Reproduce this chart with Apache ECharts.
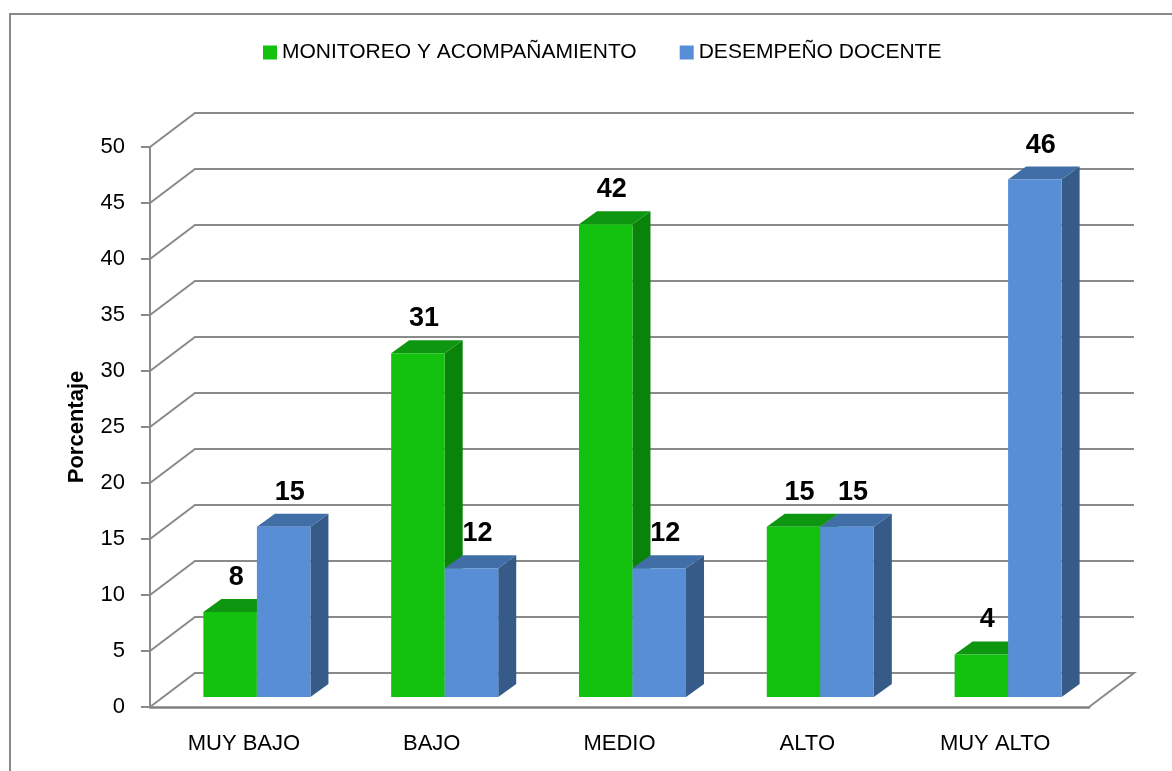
<!DOCTYPE html>
<html>
<head>
<meta charset="utf-8">
<script src="https://cdn.jsdelivr.net/npm/echarts@6/dist/echarts.min.js"></script>
<style>
html,body{margin:0;padding:0;background:#fff;}
#chart{width:1172px;height:771px;}
</style>
</head>
<body>
<div id="chart"></div>
<script>
// ---- data ----
var categories = ['MUY BAJO', 'BAJO', 'MEDIO', 'ALTO', 'MUY ALTO'];
var seriesNames = ['MONITOREO Y ACOMPAÑAMIENTO', 'DESEMPEÑO DOCENTE'];
var monitoreo = [7.6, 30.7, 42.2, 15.2, 3.8];
var desempeno = [15.2, 11.5, 11.5, 15.2, 46.2];
var yTicks = [0, 5, 10, 15, 20, 25, 30, 35, 40, 45, 50];

// ---- style ----
var FONT = '"Liberation Sans", Arial, sans-serif';
var GRID_COLOR = '#8a8a8a';
var WALL_DX = 45, WALL_DY = -34;   // depth of the back wall
var BAR_DX = 13, BAR_DY = -10;     // bars' front face offset into the depth
var BAR_DEPTH_X = 18, BAR_DEPTH_Y = -13;
var BAR_FRAC = 0.285;
var colors = [
  { front: '#13c20f', top: '#0e9610', side: '#0a830a' },
  { front: '#578ed6', top: '#416ea6', side: '#365b89' }
];

var chart = echarts.init(document.getElementById('chart'), null, { renderer: 'canvas' });

function wallItem(params, api) {
  var cs = params.coordSys;
  var v = api.value(1);
  var y = api.coord([0, v])[1];
  var x0 = cs.x, x1 = cs.x + cs.width;
  var pts = [[x0, y], [x0 + WALL_DX, y + WALL_DY], [x1 + WALL_DX, y + WALL_DY]];
  if (v === 0) pts.push([x1, y]);
  return {
    type: 'polyline',
    shape: { points: pts },
    style: { stroke: GRID_COLOR, lineWidth: 2, fill: null },
    silent: true
  };
}

function makeBarRender(s) {
  return function (params, api) {
    var idx = api.value(0);
    var v = api.value(1);
    var bw = api.size([1, 0])[0];
    var w = bw * BAR_FRAC;
    var c = api.coord([idx, v]);
    var base = api.coord([idx, 0]);
    var xl = c[0] - w + s * w + BAR_DX;
    var xr = xl + w;
    var yt = c[1] + BAR_DY;
    var yb = base[1] + BAR_DY;
    var col = colors[s];
    return {
      type: 'group',
      children: [
        { type: 'polygon', shape: { points: [[xr, yt], [xr + BAR_DEPTH_X, yt + BAR_DEPTH_Y], [xr + BAR_DEPTH_X, yb + BAR_DEPTH_Y], [xr, yb]] }, style: { fill: col.side } },
        { type: 'polygon', shape: { points: [[xl, yt], [xl + BAR_DEPTH_X, yt + BAR_DEPTH_Y], [xr + BAR_DEPTH_X, yt + BAR_DEPTH_Y], [xr, yt]] }, style: { fill: col.top } },
        { type: 'rect', shape: { x: xl, y: yt, width: w, height: yb - yt }, style: { fill: col.front } }
      ]
    };
  };
}

function makeLabelRender(s) {
  return function (params, api) {
    var idx = api.value(0);
    var v = api.value(1);
    var bw = api.size([1, 0])[0];
    var w = bw * BAR_FRAC;
    var c = api.coord([idx, v]);
    var xl = c[0] - w + s * w + BAR_DX;
    var yt = c[1] + BAR_DY + BAR_DEPTH_Y;
    return {
      type: 'text',
      style: {
        x: xl + w / 2 + 6,
        y: yt - 8,
        text: String(Math.round(v)),
        fill: '#000',
        font: 'bold 27px ' + FONT,
        align: 'center',
        verticalAlign: 'bottom'
      },
      silent: true
    };
  };
}

function toPairs(arr) { return arr.map(function (v, i) { return [i, v]; }); }

var option = {
  backgroundColor: '#fff',
  animation: false,
  graphic: [{
    type: 'rect',
    shape: { x: 10, y: 14, width: 1200, height: 800 },
    style: { fill: null, stroke: '#8a8a8a', lineWidth: 2 },
    silent: true, z: -10
  }],
  legend: {
    data: [
      { name: seriesNames[0], icon: 'rect', itemStyle: { color: colors[0].front } },
      { name: seriesNames[1], icon: 'rect', itemStyle: { color: colors[1].front } }
    ],
    left: 263, top: 42, padding: 0,
    itemWidth: 14, itemHeight: 14, itemGap: 43,
    textStyle: { fontFamily: FONT, fontSize: 21, color: '#000', padding: [0, 0, 0, 0] }
  },
  grid: { left: 150, right: 83, top: 147, bottom: 64, containLabel: false },
  xAxis: {
    type: 'category',
    data: categories,
    axisLine: { show: true, lineStyle: { color: '#808080', width: 2.5 } },
    axisTick: { show: false },
    axisLabel: { fontFamily: FONT, fontSize: 22, color: '#000', margin: 26 },
    splitLine: { show: false }
  },
  yAxis: {
    type: 'value',
    min: 0, max: 50, interval: 5,
    name: 'Porcentaje',
    nameLocation: 'middle',
    nameRotate: 90,
    nameGap: 62,
    nameTextStyle: { fontFamily: FONT, fontSize: 22, fontWeight: 'bold', color: '#000' },
    axisLine: { show: true, lineStyle: { color: GRID_COLOR, width: 2 } },
    axisTick: { show: true, inside: false, length: 9, lineStyle: { color: GRID_COLOR, width: 2 } },
    axisLabel: { fontFamily: FONT, fontSize: 22, color: '#000', margin: 25 },
    splitLine: { show: false }
  },
  series: [
    {
      name: 'wall', type: 'custom', renderItem: wallItem, z: 1,
      data: yTicks.map(function (t) { return [0, t]; }),
      encode: { x: 0, y: 1 }, silent: true
    },
    {
      name: seriesNames[0], type: 'custom', renderItem: makeBarRender(0), z: 3,
      itemStyle: { color: colors[0].front },
      data: toPairs(monitoreo), encode: { x: 0, y: 1 }
    },
    {
      name: seriesNames[1], type: 'custom', renderItem: makeBarRender(1), z: 4,
      itemStyle: { color: colors[1].front },
      data: toPairs(desempeno), encode: { x: 0, y: 1 }
    },
    {
      name: 'lbl0', type: 'custom', renderItem: makeLabelRender(0), z: 10,
      data: toPairs(monitoreo), encode: { x: 0, y: 1 }, silent: true
    },
    {
      name: 'lbl1', type: 'custom', renderItem: makeLabelRender(1), z: 10,
      data: toPairs(desempeno), encode: { x: 0, y: 1 }, silent: true
    }
  ]
};
chart.setOption(option);
</script>
</body>
</html>
